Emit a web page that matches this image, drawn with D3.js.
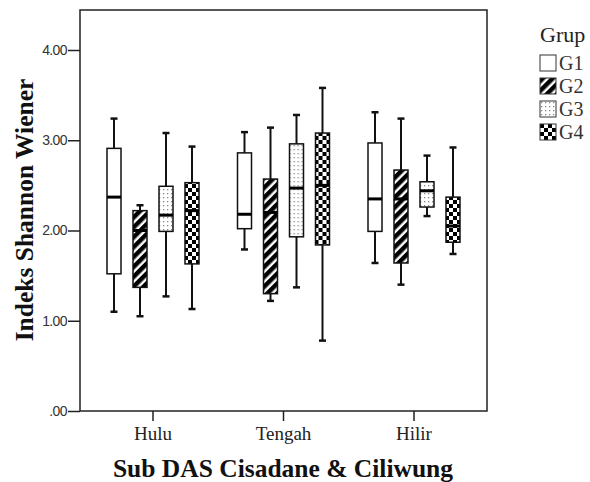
<!DOCTYPE html>
<html>
  <head>
    <script src="https://d3js.org/d3.v7.min.js"></script>
    <style>
      body { margin: 0; background: #fff; }
      svg { display: block; }
    </style>
  </head>
  <body>
    <script>
      // data: [min, q1, median, q3, max]
      var regions = ["Hulu", "Tengah", "Hilir"];
      var groups = ["G1", "G2", "G3", "G4"];
      var yTicks = [0, 1, 2, 3, 4];
      var g1 = [[1.10, 1.52, 2.37, 2.91, 3.24], [1.79, 2.02, 2.18, 2.86, 3.09], [1.64, 1.99, 2.35, 2.97, 3.31]];
      var g2 = [[1.05, 1.37, 2.00, 2.22, 2.28], [1.22, 1.30, 2.20, 2.57, 3.14], [1.40, 1.64, 2.35, 2.67, 3.24]];
      var g3 = [[1.27, 1.99, 2.17, 2.49, 3.08], [1.37, 1.93, 2.47, 2.96, 3.28], [2.16, 2.26, 2.44, 2.54, 2.83]];
      var g4 = [[1.13, 1.63, 2.22, 2.53, 2.93], [0.78, 1.84, 2.50, 3.08, 3.58], [1.74, 1.87, 2.05, 2.37, 2.92]];

      var width = 590, height = 482;
      var plotL = 80, plotR = 487, plotT = 10, plotB = 411;

      var svg = d3.select("body").append("svg")
                  .attr("width", width).attr("height", height);

      // fill patterns
      var defs = svg.append("defs");
      var p2 = defs.append("pattern").attr("id", "pG2").attr("patternUnits", "userSpaceOnUse")
                   .attr("width", 7).attr("height", 7).attr("patternTransform", "rotate(45)");
      p2.append("rect").attr("width", 7).attr("height", 7).attr("fill", "#fff");
      p2.append("rect").attr("width", 4.5).attr("height", 7).attr("fill", "#000");

      var p3 = defs.append("pattern").attr("id", "pG3").attr("patternUnits", "userSpaceOnUse")
                   .attr("width", 4).attr("height", 4);
      p3.append("rect").attr("width", 4).attr("height", 4).attr("fill", "#fff");
      p3.append("rect").attr("x", 1).attr("y", 1).attr("width", 1.3).attr("height", 1.3).attr("fill", "#888");

      var p4 = defs.append("pattern").attr("id", "pG4").attr("patternUnits", "userSpaceOnUse")
                   .attr("width", 8).attr("height", 8);
      p4.append("rect").attr("width", 8).attr("height", 8).attr("fill", "#fff");
      p4.append("rect").attr("width", 4).attr("height", 4).attr("fill", "#000");
      p4.append("rect").attr("x", 4).attr("y", 4).attr("width", 4).attr("height", 4).attr("fill", "#000");

      var fills = { G1: "#fff", G2: "url(#pG2)", G3: "url(#pG3)", G4: "url(#pG4)" };

      var y = d3.scaleLinear().domain([0, 4]).range([plotB, 50]);
      var x = d3.scaleBand().domain(regions).range([87.75, 479.25]);
      var xg = d3.scaleBand().domain(groups).range([-52, 52]);
      var boxW = 14;

      // frame
      svg.append("rect").attr("x", plotL).attr("y", plotT)
         .attr("width", plotR - plotL).attr("height", plotB - plotT)
         .attr("fill", "none").attr("stroke", "#222").attr("stroke-width", 1.5);

      // y axis
      var yAxis = svg.append("g").attr("transform", "translate(" + plotL + ",0)")
         .call(d3.axisLeft(y).tickValues(yTicks).tickSize(12).tickPadding(1)
               .tickFormat(function(d) { return d === 0 ? ".00" : d3.format(".2f")(d); }));
      yAxis.select(".domain").remove();
      yAxis.selectAll("line").attr("stroke", "#222").attr("stroke-width", 1.5);
      yAxis.selectAll("text").attr("font-family", "Liberation Sans, Arial, sans-serif")
           .attr("font-size", "14px").attr("fill", "#333").attr("letter-spacing", "-0.6px");

      // x axis
      var xAxis = svg.append("g").attr("transform", "translate(0," + plotB + ")")
         .call(d3.axisBottom(x).tickSize(10).tickPadding(6));
      xAxis.select(".domain").remove();
      xAxis.selectAll("line").attr("stroke", "#222").attr("stroke-width", 1.5);
      xAxis.selectAll("text").attr("font-family", "Liberation Serif, Times New Roman, serif")
           .attr("font-size", "19px").attr("fill", "#222");

      // boxes
      var series = { G1: g1, G2: g2, G3: g3, G4: g4 };
      var boxes = [];
      groups.forEach(function(g) {
        regions.forEach(function(r, i) {
          var v = series[g][i];
          boxes.push({ group: g, region: r, min: v[0], q1: v[1], med: v[2], q3: v[3], max: v[4] });
        });
      });

      var bx = svg.selectAll("g.box").data(boxes).enter().append("g").attr("class", "box")
                  .attr("transform", function(d) {
                    return "translate(" + (x(d.region) + x.bandwidth() / 2 + xg(d.group) + xg.bandwidth() / 2) + ",0)";
                  });

      bx.append("line").attr("y1", function(d) { return y(d.max); }).attr("y2", function(d) { return y(d.min); })
        .attr("stroke", "#111").attr("stroke-width", 2);
      bx.append("line").attr("x1", -3.5).attr("x2", 3.5)
        .attr("y1", function(d) { return y(d.max); }).attr("y2", function(d) { return y(d.max); })
        .attr("stroke", "#111").attr("stroke-width", 2.5);
      bx.append("line").attr("x1", -3.5).attr("x2", 3.5)
        .attr("y1", function(d) { return y(d.min); }).attr("y2", function(d) { return y(d.min); })
        .attr("stroke", "#111").attr("stroke-width", 2.5);
      bx.append("rect").attr("x", -boxW / 2).attr("width", boxW)
        .attr("y", function(d) { return y(d.q3); })
        .attr("height", function(d) { return y(d.q1) - y(d.q3); })
        .attr("fill", function(d) { return fills[d.group]; })
        .attr("stroke", "#111").attr("stroke-width", 1.5);
      bx.append("line").attr("x1", -boxW / 2).attr("x2", boxW / 2)
        .attr("y1", function(d) { return y(d.med); }).attr("y2", function(d) { return y(d.med); })
        .attr("stroke", "#000").attr("stroke-width", 3);

      // axis titles
      svg.append("text").attr("x", 283).attr("y", 477).attr("text-anchor", "middle")
         .attr("font-family", "Liberation Serif, Times New Roman, serif").attr("font-weight", "bold")
         .attr("font-size", "25.5px").attr("fill", "#111").text("Sub DAS Cisadane & Ciliwung");
      svg.append("text").attr("transform", "translate(33,210) rotate(-90)").attr("text-anchor", "middle")
         .attr("font-family", "Liberation Serif, Times New Roman, serif").attr("font-weight", "bold")
         .attr("font-size", "25.5px").attr("fill", "#111").text("Indeks Shannon Wiener");

      // legend
      svg.append("text").attr("x", 540).attr("y", 42)
         .attr("font-family", "Liberation Serif, Times New Roman, serif")
         .attr("font-size", "22px").attr("fill", "#222").text("Grup");
      var lg = svg.selectAll("g.leg").data(groups).enter().append("g").attr("class", "leg")
                  .attr("transform", function(d, i) { return "translate(540," + (55 + i * 23) + ")"; });
      lg.append("rect").attr("width", 16).attr("height", 16)
        .attr("fill", function(d) { return fills[d]; }).attr("stroke", "#333").attr("stroke-width", 1);
      lg.append("text").attr("x", 19).attr("y", 15)
        .attr("font-family", "Liberation Serif, Times New Roman, serif")
        .attr("font-size", "20px").attr("fill", "#333").text(function(d) { return d; });
    </script>
  </body>
</html>
